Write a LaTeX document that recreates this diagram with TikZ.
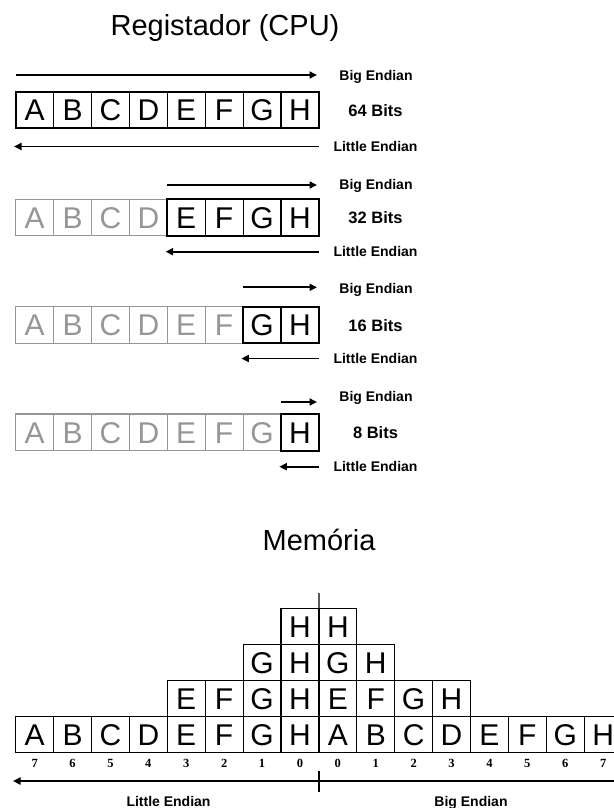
\documentclass[tikz,border=0pt]{standalone}
\usepackage{fontspec}
\setmainfont{Liberation Sans}
\newfontfamily\numfont{Liberation Serif}
\usetikzlibrary{arrows.meta,positioning,fit,calc}
\definecolor{offgray}{RGB}{150,150,150}

\begin{document}
\begin{tikzpicture}[x=1pt, y=-1pt,
  cell/.style={draw, line width=1.2pt, minimum width=37.9pt, minimum height=36.5pt, inner sep=0pt, outer sep=0pt, font=\fontsize{30}{30}\selectfont, text height=21.5pt, text depth=0pt},
  offcell/.style={cell, draw=offgray, text=offgray},
  mcell/.style={cell, minimum height=36pt},
  grp/.style={draw, line width=2pt, inner sep=0pt},
  arr/.style={-{Triangle[length=7.5pt, width=7pt]}, line width=1.8pt},
  lbl/.style={font=\bfseries\fontsize{14}{14}\selectfont, text height=10pt, text depth=0pt, inner sep=0pt},
  bits/.style={font=\bfseries\fontsize{16.5}{16.5}\selectfont, text height=11.8pt, text depth=0pt, inner sep=0pt},
  num/.style={font=\numfont\bfseries\fontsize{12.5}{12.5}\selectfont, text height=8.5pt, text depth=0pt, inner sep=0pt},
  ttl/.style={font=\fontsize{29}{29}\selectfont, anchor=base, inner sep=0pt},
]
\useasboundingbox (0,0) rectangle (613,808);

\node[ttl] (reg) at (225,35.5) {Registador (CPU)};
\foreach \r/\s/\bits/\top/\be/\bea/\le in {1/1/64/91.7/75/75/146.5, 2/5/32/199.3/184/185/251.7, 3/7/16/306.7/288/287.3/358.5, 4/8/8/414/396/402/466.7} {
  \foreach \l [count=\c] in {A,B,C,D,E,F,G,H} {
    \ifnum\c<\s \def\st{offcell}\else\def\st{cell}\fi
    \node[\st] (r\r-\c) at ({34.65+37.9*(\c-1)}, {\top+18.25}) {\l};
  }
  \node[grp, fit=(r\r-\s)(r\r-8)] (g\r) {};
  \node[lbl] (be\r) at (376,\be) {Big Endian};
  \node[bits] (b\r) at (375.5,{\top+18.5}) {\bits\ Bits};
  \node[lbl] (le\r) at (375.5,\le) {Little Endian};
  \coordinate (bs\r) at ({15.7+37.9*(\s-1)}, \bea);
  \coordinate (bt\r) at (317,\bea);
  \coordinate (ls\r) at (318.5,\le);
  \coordinate (lt\r) at ({14+37.9*(\s-1)}, \le);
  \draw[arr] (bs\r) -- (bt\r);
  \draw[arr] (ls\r) -- (lt\r);
}

\node[ttl] (mem) at (319,550) {Memória};
\foreach \l [count=\c] in {A,B,C,D,E,F,G,H,A,B,C,D,E,F,G,H}
  \node[mcell] (m1-\c) at ({34.65+37.9*(\c-1)}, 734.5) {\l};
\foreach \l [count=\c from 5] in {E,F,G,H,E,F,G,H}
  \node[mcell] (m2-\c) at ({34.65+37.9*(\c-1)}, 698.5) {\l};
\foreach \l [count=\c from 7] in {G,H,G,H}
  \node[mcell] (m3-\c) at ({34.65+37.9*(\c-1)}, 662.5) {\l};
\foreach \l [count=\c from 8] in {H,H}
  \node[mcell] (m4-\c) at ({34.65+37.9*(\c-1)}, 626.5) {\l};
\coordinate (vtop) at (318.9,593);
\draw[line width=1.2pt] (vtop) -- (m4-8.north east);

\foreach \n [count=\c] in {7,6,5,4,3,2,1,0,0,1,2,3,4,5,6,7}
  \node[num] (d\c) at ({34.65+37.9*(\c-1)}, 763) {\n};
\coordinate (tick) at (318.9,781);
\coordinate (tickt) at (318.9,771);
\coordinate (tickb) at (318.9,792);
\coordinate (lend) at (13,781);
\coordinate (rend) at (630,781);
\draw[line width=2pt] (tickt) -- (tickb);
\draw[arr] (tick) -- (lend);
\draw[arr] (tick) -- (rend);
\node[lbl] (lle) at (168.5,801) {Little Endian};
\node[lbl] (lbe) at (471,801) {Big Endian};
\end{tikzpicture}
\end{document}
